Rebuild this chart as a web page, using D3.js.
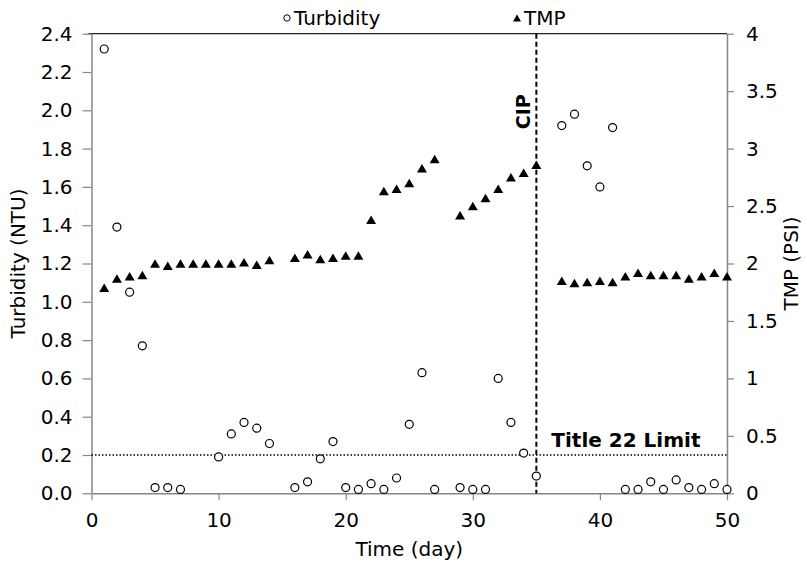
<!DOCTYPE html>
<html>
<head>
<meta charset="utf-8">
<script src="https://cdn.jsdelivr.net/npm/d3@7"></script>
<style>
  body { margin: 0; background: #fff; }
  svg text { font-family: "DejaVu Sans", Verdana, sans-serif; fill: #000; }
</style>
</head>
<body>
<script>
// turbidity readings (NTU)
var turbDays = [1,2,3,4,5,6,7,10,11,12,13,14,16,17,18,19,20,21,22,23,24,25,26,27,29,30,31,32,33,34,35,37,38,39,40,41,42,43,44,45,46,47,48,49,50];
var turbVals = [2.32,1.39,1.05,0.77,0.03,0.03,0.02,0.19,0.31,0.37,0.34,0.26,0.03,0.06,0.18,0.27,0.03,0.02,0.05,0.02,0.08,0.36,0.63,0.02,0.03,0.02,0.02,0.60,0.37,0.21,0.09,1.92,1.98,1.71,1.60,1.91,0.02,0.02,0.06,0.02,0.07,0.03,0.02,0.05,0.02];

// TMP readings (PSI)
var tmpDays = [1,2,3,4,5,6,7,8,9,10,11,12,13,14,16,17,18,19,20,21,22,23,24,25,26,27,29,30,31,32,33,34,35,37,38,39,40,41,42,43,44,45,46,47,48,49,50];
var tmpVals = [1.79,1.87,1.89,1.90,2.00,1.98,2.00,2.00,2.00,2.00,2.00,2.01,1.99,2.03,2.05,2.08,2.04,2.05,2.07,2.07,2.38,2.63,2.65,2.70,2.83,2.91,2.42,2.50,2.57,2.65,2.75,2.79,2.86,1.85,1.83,1.84,1.85,1.84,1.89,1.92,1.90,1.90,1.90,1.87,1.89,1.92,1.89];

var xTicks = [0,10,20,30,40,50];
var yLeftTicks = [0,0.2,0.4,0.6,0.8,1.0,1.2,1.4,1.6,1.8,2.0,2.2,2.4];
var yRightTicks = [0,0.5,1,1.5,2,2.5,3,3.5,4];
var cipDay = [35];
var limitVal = [0.2];

var W = 807, H = 562;
var margin = {top: 33.7, right: 80, bottom: 68.7, left: 91.5},
    width = W - margin.left - margin.right,
    height = H - margin.top - margin.bottom;

var svg = d3.select("body").append("svg").attr("width", W).attr("height", H);
var g = svg.append("g").attr("transform", "translate(" + margin.left + "," + margin.top + ")");

var x = d3.scaleLinear().domain([0, 50]).range([0, width]),
    yL = d3.scaleLinear().domain([0, 2.4]).range([height, 0]),
    yR = d3.scaleLinear().domain([0, 4]).range([height, 0]);

var fs = "20px";
var axisColor = "#868686";

// top border
g.append("line").attr("x1", -3).attr("x2", width).attr("y1", 0).attr("y2", 0)
  .attr("stroke", "#222").attr("stroke-width", 1.2);

// axes
var xAxis = g.append("g").attr("transform", "translate(0," + height + ")")
  .call(d3.axisBottom(x).tickValues(xTicks).tickSizeInner(7).tickSizeOuter(0).tickPadding(13));
var lAxis = g.append("g")
  .call(d3.axisLeft(yL).tickValues(yLeftTicks).tickFormat(d3.format(".1f")).tickSizeInner(9).tickSizeOuter(0).tickPadding(10));
var rAxis = g.append("g").attr("transform", "translate(" + width + ",0)")
  .call(d3.axisRight(yR).tickValues(yRightTicks).tickFormat(function(d) { return String(d); }).tickSizeInner(7).tickSizeOuter(0).tickPadding(12));

[xAxis, lAxis, rAxis].forEach(function(a) {
  a.select(".domain").attr("stroke", axisColor).attr("stroke-width", 1.5);
  a.selectAll(".tick line").attr("stroke", axisColor).attr("stroke-width", 1.2);
  a.selectAll(".tick text").style("font-size", fs).attr("font-family", "DejaVu Sans, Verdana, sans-serif");
});

// Title 22 limit line
g.selectAll(".limit").data(limitVal).enter().append("line")
  .attr("x1", 0).attr("x2", width)
  .attr("y1", function(d) { return yL(d); }).attr("y2", function(d) { return yL(d); })
  .attr("stroke", "#000").attr("stroke-width", 1.5).attr("stroke-dasharray", "1.5,2");

g.append("text")
  .attr("x", x(35) + 15).attr("y", yL(0.2) - 8)
  .style("font-size", "20px").style("font-weight", "bold")
  .text("Title 22 Limit");

// CIP line
g.selectAll(".cip").data(cipDay).enter().append("line")
  .attr("x1", function(d) { return x(d); }).attr("x2", function(d) { return x(d); })
  .attr("y1", 0).attr("y2", height)
  .attr("stroke", "#000").attr("stroke-width", 2).attr("stroke-dasharray", "5,3");

g.append("text")
  .attr("transform", "translate(" + (x(35) - 6) + "," + 78 + ") rotate(-90)")
  .attr("text-anchor", "middle")
  .style("font-size", "19px").style("font-weight", "bold")
  .text("CIP");

// turbidity circles
var turb = turbDays.map(function(d, i) { return {day: d, v: turbVals[i]}; });
g.selectAll(".turb").data(turb).enter().append("circle")
  .attr("cx", function(d) { return x(d.day); })
  .attr("cy", function(d) { return yL(d.v); })
  .attr("r", 4)
  .attr("fill", "#fff").attr("stroke", "#000").attr("stroke-width", 1.2);

// TMP triangles
function tri(w, h) {
  return "M0," + (-h / 2) + "L" + (w / 2) + "," + (h / 2) + "L" + (-w / 2) + "," + (h / 2) + "Z";
}
var tmp = tmpDays.map(function(d, i) { return {day: d, v: tmpVals[i]}; });
g.selectAll(".tmp").data(tmp).enter().append("path")
  .attr("d", tri(10, 8.5))
  .attr("transform", function(d) { return "translate(" + x(d.day) + "," + yR(d.v) + ")"; })
  .attr("fill", "#000");

// axis titles
svg.append("text")
  .attr("transform", "translate(" + 25 + "," + (margin.top + height / 2) + ") rotate(-90)")
  .attr("text-anchor", "middle").style("font-size", fs)
  .text("Turbidity (NTU)");

svg.append("text")
  .attr("transform", "translate(" + 798 + "," + (margin.top + height / 2) + ") rotate(-90)")
  .attr("text-anchor", "middle").style("font-size", fs)
  .text("TMP (PSI)");

svg.append("text")
  .attr("x", margin.left + width / 2).attr("y", 556)
  .attr("text-anchor", "middle").style("font-size", fs)
  .text("Time (day)");

// legend
var legend = svg.append("g");
legend.append("circle").attr("cx", 287).attr("cy", 18).attr("r", 3.2)
  .attr("fill", "#fff").attr("stroke", "#000").attr("stroke-width", 1);
legend.append("text").attr("x", 294).attr("y", 25).style("font-size", fs).text("Turbidity");
legend.append("path").attr("d", tri(8, 7)).attr("transform", "translate(517,18)").attr("fill", "#000");
legend.append("text").attr("x", 524).attr("y", 25).style("font-size", fs).text("TMP");
</script>
</body>
</html>
